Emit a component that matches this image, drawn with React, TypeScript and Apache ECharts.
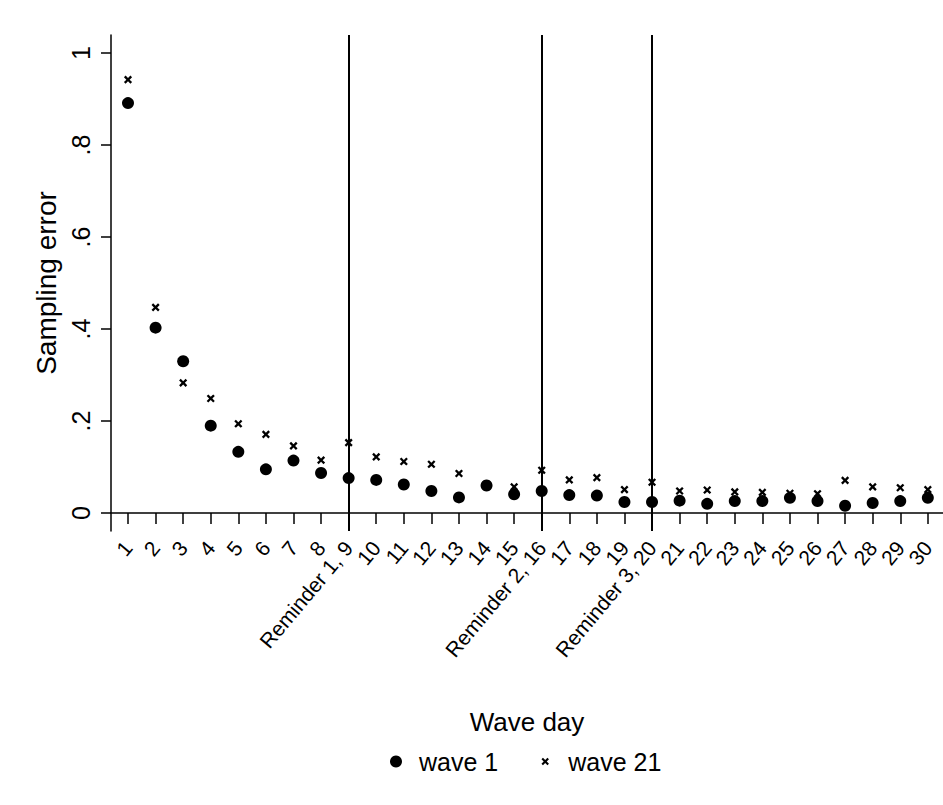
import React, { useEffect, useRef } from "react";
import * as echarts from "echarts";

const days = [1, 2, 3, 4, 5, 6, 7, 8, 9, 10, 11, 12, 13, 14, 15, 16, 17, 18, 19, 20, 21, 22, 23, 24, 25, 26, 27, 28, 29, 30];
const wave1 = [0.891, 0.403, 0.33, 0.19, 0.133, 0.095, 0.114, 0.087, 0.076, 0.072, 0.062, 0.048, 0.034, 0.06, 0.041, 0.048, 0.039, 0.038, 0.024, 0.024, 0.027, 0.02, 0.026, 0.026, 0.033, 0.026, 0.016, 0.022, 0.026, 0.033];
const wave21 = [0.942, 0.447, 0.283, 0.249, 0.194, 0.171, 0.146, 0.115, 0.153, 0.122, 0.112, 0.106, 0.086, 0.062, 0.057, 0.093, 0.072, 0.077, 0.051, 0.067, 0.048, 0.05, 0.046, 0.045, 0.043, 0.042, 0.071, 0.057, 0.055, 0.051];
const reminderDays = [9, 16, 20];
const xTickLabels = ["1", "2", "3", "4", "5", "6", "7", "8", "Reminder 1, 9", "10", "11", "12", "13", "14", "15", "Reminder 2, 16", "17", "18", "19", "Reminder 3, 20", "21", "22", "23", "24", "25", "26", "27", "28", "29", "30"];
const yTicks = [0, 0.2, 0.4, 0.6, 0.8, 1];
const yTickLabels = ["0", ".2", ".4", ".6", ".8", "1"];

const FONT = "'Liberation Sans', Arial, sans-serif";
// bold "x" glyph, padded with two move-to points so the drawn cross is smaller than the symbol box
const X_PATH = "path://M-3,-3M13,13M0,2L2,0L5,3L8,0L10,2L7,5L10,8L8,10L5,7L2,10L0,8L3,5Z";

export default function App() {
  const ref = useRef<HTMLDivElement>(null);
  useEffect(() => {
    if (!ref.current) return;
    const chart = echarts.init(ref.current, undefined, { renderer: "svg" });
    chart.setOption({
      animation: false,
      backgroundColor: "#fff",
      textStyle: { fontFamily: FONT, color: "#000" },
      grid: { left: 111, top: 35, right: 0, bottom: 274, containLabel: false },
      xAxis: {
        type: "value",
        min: 0.3836,
        max: 30.55,
        name: "Wave day",
        nameLocation: "middle",
        nameGap: 178,
        nameTextStyle: { fontSize: 26, color: "#000", fontFamily: FONT },
        axisLine: { show: true, lineStyle: { color: "#000", width: 1.5 } },
        axisTick: { show: true, customValues: days, length: 11, lineStyle: { color: "#000", width: 1.5 } },
        axisLabel: {
          customValues: days,
          rotate: 50,
          fontSize: 21,
          color: "#000",
          fontFamily: FONT,
          margin: 13,
          hideOverlap: false,
          showMinLabel: true,
          showMaxLabel: true,
          formatter: (v: number) => xTickLabels[days.indexOf(Math.round(v))] ?? "",
        },
        splitLine: { show: false },
      },
      yAxis: {
        type: "value",
        min: -0.039,
        max: 1.039,
        name: "Sampling error",
        nameLocation: "middle",
        nameGap: 48,
        nameTextStyle: { fontSize: 28, color: "#000", fontFamily: FONT },
        axisLine: { show: true, lineStyle: { color: "#000", width: 1.5 } },
        axisTick: { show: true, customValues: yTicks, length: 10, lineStyle: { color: "#000", width: 1.5 } },
        axisLabel: {
          customValues: yTicks,
          rotate: 90,
          fontSize: 25,
          color: "#000",
          fontFamily: FONT,
          margin: 18,
          showMinLabel: true,
          showMaxLabel: true,
          formatter: (v: number) => {
            const i = yTicks.findIndex((t) => Math.abs(t - v) < 1e-6);
            return i >= 0 ? yTickLabels[i] : "";
          },
        },
        splitLine: { show: false },
      },
      legend: {
        top: 744,
        left: 385,
        itemWidth: 36,
        itemHeight: 12,
        itemGap: 41,
        textStyle: { fontSize: 25, color: "#000", fontFamily: FONT },
        data: [
          { name: "wave 1", icon: "circle", itemStyle: { color: "#000", opacity: 1 } },
          { name: "wave 21", icon: X_PATH, itemStyle: { color: "#000", opacity: 1 } },
        ],
      },
      series: [
        {
          name: "wave 1",
          type: "scatter",
          symbol: "circle",
          symbolSize: 12,
          itemStyle: { color: "#000", opacity: 1 },
          data: days.map((d, i) => [d, wave1[i]]),
          markLine: {
            silent: true,
            symbol: "none",
            label: { show: false },
            lineStyle: { color: "#000", width: 2, type: "solid", opacity: 1 },
            data: reminderDays.map((d) => ({ xAxis: d })),
          },
        },
        {
          name: "wave 21",
          type: "scatter",
          symbol: X_PATH,
          symbolSize: 13,
          itemStyle: { color: "#000", opacity: 1 },
          data: days.map((d, i) => [d, wave21[i]]),
        },
      ],
    });
    return () => chart.dispose();
  }, []);
  return <div ref={ref} style={{ position: "fixed", left: 0, top: 0, width: 943, height: 805 }} />;
}
